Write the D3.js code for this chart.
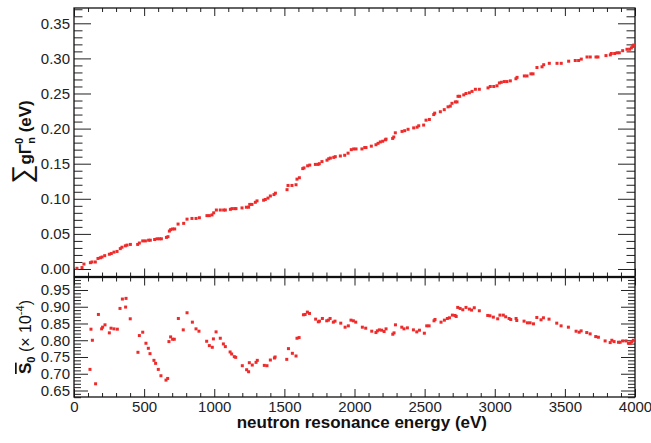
<!DOCTYPE html>
<html>
<head>
<meta charset="utf-8">
<script src="https://cdn.jsdelivr.net/npm/d3@7"></script>
<style>
  body { margin: 0; background: #fff; }
  svg { display: block; font-family: "Liberation Sans", Arial, sans-serif; }
  .tick line { stroke: #222; }
  .tick text { font-family: "Liberation Sans", Arial, sans-serif; font-size: 15px; fill: #222; }
</style>
</head>
<body>
<div id="graphic"></div>
<script>
// top panel: cumulative reduced neutron width vs resonance energy
var sumE = [
  21, 57, 71, 117, 128, 152, 171, 188, 200, 219,
  252, 266, 285, 307, 330, 342, 366, 378, 402, 454,
  466, 490, 509, 532, 544, 575, 592, 609, 623, 659,
  670, 680, 689, 703, 718, 742, 782, 806, 841, 870,
  894, 948, 965, 984, 996, 1015,
  1043, 1067, 1079, 1115, 1127, 1146, 1155, 1198, 1229, 1245,
  1253, 1269, 1293, 1305, 1352, 1364, 1383, 1400, 1426, 1436,
  1519, 1526, 1554, 1583, 1590, 1607, 1631, 1640, 1666, 1681,
  1721, 1740, 1749, 1768, 1804, 1816, 1828, 1852, 1863, 1899,
  1930, 1954, 1977, 1994, 2011,
  2053, 2073, 2082, 2120, 2153, 2168, 2184, 2201, 2220, 2225,
  2272, 2280, 2291, 2339, 2358, 2382, 2422, 2446, 2458, 2493,
  2510, 2534, 2565, 2572, 2612, 2640, 2667, 2683, 2695, 2719,
  2731, 2738, 2750, 2779, 2795, 2819, 2838, 2862, 2890, 2952,
  2968, 2993, 3016,
  3033, 3047, 3068, 3087, 3111, 3151, 3159, 3211, 3230, 3258,
  3273, 3301, 3337, 3349, 3389, 3444, 3474, 3527, 3574, 3598,
  3617, 3658, 3681, 3722, 3736, 3793, 3824, 3831, 3855, 3872,
  3888, 3912, 3943, 3962, 3974, 3984, 3991
]
var sumG = [
  0.001, 0.002, 0.007, 0.009, 0.010, 0.010, 0.015, 0.016, 0.017, 0.019,
  0.021, 0.022, 0.024, 0.025, 0.029, 0.031, 0.033, 0.034, 0.035, 0.035,
  0.037, 0.040, 0.040, 0.041, 0.041, 0.042, 0.043, 0.043, 0.043, 0.045,
  0.046, 0.054, 0.056, 0.057, 0.057, 0.064, 0.065, 0.071, 0.072, 0.072,
  0.073, 0.076, 0.076, 0.077, 0.080, 0.084,
  0.084, 0.084, 0.084, 0.085, 0.086, 0.086, 0.086, 0.087, 0.088, 0.088,
  0.092, 0.092, 0.095, 0.097, 0.098, 0.099, 0.101, 0.104, 0.106, 0.108,
  0.113, 0.119, 0.119, 0.120, 0.128, 0.130, 0.143, 0.144, 0.147, 0.148,
  0.149, 0.149, 0.150, 0.153, 0.155, 0.157, 0.158, 0.159, 0.160, 0.161,
  0.162, 0.165, 0.170, 0.171, 0.171,
  0.171, 0.173, 0.173, 0.175, 0.177, 0.179, 0.181, 0.182, 0.184, 0.185,
  0.186, 0.188, 0.194, 0.196, 0.197, 0.199, 0.201, 0.202, 0.204, 0.205,
  0.212, 0.213, 0.220, 0.222, 0.224, 0.227, 0.231, 0.232, 0.236, 0.238,
  0.238, 0.246, 0.246, 0.248, 0.250, 0.251, 0.253, 0.256, 0.256, 0.258,
  0.260, 0.260, 0.261,
  0.265, 0.266, 0.267, 0.267, 0.268, 0.271, 0.273, 0.275, 0.275, 0.278,
  0.278, 0.287, 0.288, 0.291, 0.293, 0.293, 0.293, 0.296, 0.297, 0.297,
  0.299, 0.302, 0.302, 0.302, 0.302, 0.304, 0.305, 0.307, 0.307, 0.308,
  0.308, 0.311, 0.313, 0.313, 0.315, 0.317, 0.319
]

// bottom panel: average s-wave strength function (x 1e-4)
var s0E = [
  114, 121, 131, 154, 174, 197, 204, 221, 252, 264,
  285, 309, 328, 345, 368, 371, 401, 456, 466, 490,
  513, 530, 542, 570, 582, 601, 620, 656, 668, 677,
  689, 703, 715, 744, 779, 806, 844, 870, 891, 946,
  965, 986, 994, 1013, 1043, 1065, 1079, 1113, 1124, 1143,
  1153, 1200, 1231, 1245, 1250, 1271, 1298, 1307, 1357, 1376,
  1400, 1429, 1434, 1517, 1529, 1557, 1583, 1590, 1605, 1636,
  1648, 1664, 1679, 1723, 1742, 1750, 1771, 1802, 1814, 1826,
  1849, 1861, 1902, 1933, 1956, 1975, 1992, 2009,
  2056, 2080, 2123, 2153, 2163, 2177, 2194, 2211, 2225, 2273,
  2282, 2292, 2337, 2353, 2377, 2420, 2444, 2463, 2498, 2515,
  2532, 2567, 2574, 2617, 2641, 2662, 2677, 2698, 2717, 2725,
  2736, 2753, 2772, 2795, 2819, 2835, 2854, 2890, 2950, 2966,
  2990, 3021, 3037, 3061, 3078, 3102, 3114, 3152, 3157, 3209,
  3233, 3252, 3276, 3300, 3330, 3347, 3387, 3442, 3473, 3525,
  3580, 3602, 3616, 3656, 3680, 3720, 3739, 3787, 3823, 3835,
  3851, 3882, 3894, 3913, 3936, 3953, 3965, 3977, 3988
]
var s0V = [
  0.713, 0.833, 0.800, 0.670, 0.877, 0.834, 0.839, 0.846, 0.822, 0.836,
  0.834, 0.833, 0.895, 0.923, 0.899, 0.925, 0.864, 0.764, 0.814, 0.824,
  0.791, 0.776, 0.760, 0.740, 0.731, 0.713, 0.694, 0.681, 0.686, 0.796,
  0.810, 0.803, 0.803, 0.865, 0.831, 0.882, 0.854, 0.834, 0.827, 0.797,
  0.784, 0.779, 0.804, 0.825, 0.806, 0.789, 0.781, 0.765, 0.759, 0.751,
  0.749, 0.724, 0.712, 0.706, 0.733, 0.726, 0.734, 0.740, 0.725, 0.724,
  0.741, 0.747, 0.750, 0.743, 0.775, 0.761, 0.753, 0.806, 0.808, 0.876,
  0.877, 0.884, 0.880, 0.863, 0.855, 0.857, 0.865, 0.858, 0.860, 0.865,
  0.854, 0.857, 0.851, 0.839, 0.843, 0.860, 0.858, 0.854,
  0.839, 0.836, 0.827, 0.823, 0.828, 0.831, 0.830, 0.826, 0.834, 0.818,
  0.822, 0.846, 0.839, 0.834, 0.837, 0.831, 0.825, 0.830, 0.821, 0.843,
  0.843, 0.858, 0.862, 0.854, 0.860, 0.865, 0.867, 0.875, 0.874, 0.871,
  0.898, 0.895, 0.891, 0.898, 0.893, 0.890, 0.897, 0.888, 0.874, 0.873,
  0.869, 0.864, 0.875, 0.875, 0.870, 0.865, 0.862, 0.865, 0.859, 0.857,
  0.852, 0.852, 0.849, 0.868, 0.861, 0.867, 0.863, 0.851, 0.843, 0.839,
  0.827, 0.824, 0.828, 0.823, 0.819, 0.811, 0.809, 0.798, 0.793, 0.800,
  0.796, 0.794, 0.794, 0.798, 0.798, 0.791, 0.791, 0.796, 0.800
]

var xMajor = d3.range(0, 4001, 500)
var xMinor = d3.range(0, 4001, 100).filter(d => d % 500)
var topMajor = d3.range(0, 8).map(i => i * 0.05)
var topMinor = d3.range(-1, 38).filter(i => i % 5).map(i => i / 100)
var botMajor = d3.range(13, 20).map(i => i * 0.05)
var botMinor = d3.range(63, 99).filter(i => i % 5).map(i => i / 100)

var width = 651
var height = 443

var svg = d3.select('#graphic').append('svg')
  .attr('width', width)
  .attr('height', height)

var x = d3.scaleLinear().domain([0, 4000]).range([74, 635])
var yTop = d3.scaleLinear().domain([-0.0107, 0.3718]).range([276.5, 8])
var yBot = d3.scaleLinear().domain([0.6306, 0.9873]).range([397, 277.5])

function panel(y, major, minor, ylen, showX) {
  var [yb, yt] = y.range()
  var g = svg.append('g')
  var fmt = d3.format('.2f')

  g.append('g').attr('transform', `translate(${x.range()[0]},0)`)
    .call(d3.axisLeft(y).tickValues(major).tickSize(-ylen).tickPadding(4).tickFormat(fmt))
  g.append('g').attr('transform', `translate(${x.range()[0]},0)`)
    .call(d3.axisLeft(y).tickValues(minor).tickSize(-ylen / 2).tickFormat(''))
  g.append('g').attr('transform', `translate(${x.range()[1]},0)`)
    .call(d3.axisRight(y).tickValues(major).tickSize(-ylen).tickFormat(''))
  g.append('g').attr('transform', `translate(${x.range()[1]},0)`)
    .call(d3.axisRight(y).tickValues(minor).tickSize(-ylen / 2).tickFormat(''))

  g.append('g').attr('transform', `translate(0,${yb})`)
    .call(d3.axisBottom(x).tickValues(xMajor).tickSize(-8).tickPadding(4)
      .tickFormat(showX ? d3.format('d') : ''))
  g.append('g').attr('transform', `translate(0,${yb})`)
    .call(d3.axisBottom(x).tickValues(xMinor).tickSize(-4).tickFormat(''))
  g.append('g').attr('transform', `translate(0,${yt})`)
    .call(d3.axisTop(x).tickValues(xMajor).tickSize(-8).tickFormat(''))
  g.append('g').attr('transform', `translate(0,${yt})`)
    .call(d3.axisTop(x).tickValues(xMinor).tickSize(-4).tickFormat(''))

  g.selectAll('.domain').remove()

  g.append('rect')
    .attr('x', x.range()[0]).attr('y', yt)
    .attr('width', x.range()[1] - x.range()[0]).attr('height', yb - yt)
    .attr('fill', 'none').attr('stroke', '#111').attr('stroke-width', 1.3)
  return g
}

var gTop = panel(yTop, topMajor, topMinor, 17, false)
var gBot = panel(yBot, botMajor, botMinor, 14, true)

gTop.append('g').selectAll('rect')
  .data(d3.zip(sumE, sumG))
  .join('rect')
  .attr('x', d => x(d[0]) - 1.5)
  .attr('y', d => yTop(d[1]) - 1.5)
  .attr('width', 3).attr('height', 3)
  .attr('fill', '#ee2a2a')

gBot.append('g').selectAll('rect')
  .data(d3.zip(s0E, s0V))
  .join('rect')
  .attr('x', d => x(d[0]) - 1.5)
  .attr('y', d => yBot(d[1]) - 1.5)
  .attr('width', 3).attr('height', 3)
  .attr('fill', '#ee2a2a')

// axis titles
svg.append('text')
  .attr('x', 487).attr('y', 428)
  .attr('text-anchor', 'end')
  .attr('font-size', 17).attr('font-weight', 'bold').attr('fill', '#111')
  .text('neutron resonance energy (eV)')

var t1 = svg.append('text')
  .attr('transform', 'translate(31,142) rotate(-90)')
  .attr('text-anchor', 'middle')
  .attr('fill', '#111').attr('font-weight', 'bold').attr('font-size', 17)
t1.append('tspan').attr('font-size', 27).attr('font-weight', 'normal').text('∑')
t1.append('tspan').text('gΓ')
t1.append('tspan').attr('font-size', 11).attr('dy', -8).text('0')
t1.append('tspan').attr('font-size', 11).attr('dx', -6).attr('dy', 12).text('n')
t1.append('tspan').attr('dy', -4).text(' (eV)')

var t2 = svg.append('text')
  .attr('transform', 'translate(31,337) rotate(-90)')
  .attr('text-anchor', 'middle')
  .attr('fill', '#111').attr('font-size', 17)
t2.append('tspan').attr('font-weight', 'bold').style('text-decoration', 'overline').text('S')
t2.append('tspan').attr('font-weight', 'bold').attr('font-size', 11).attr('dy', 4).text('0')
t2.append('tspan').attr('font-size', 16).attr('dy', -4).text(' (× 10')
t2.append('tspan').attr('font-size', 11).attr('dy', -7).text('-4')
t2.append('tspan').attr('font-size', 16).attr('dy', 7).text(')')
</script>
</body>
</html>
